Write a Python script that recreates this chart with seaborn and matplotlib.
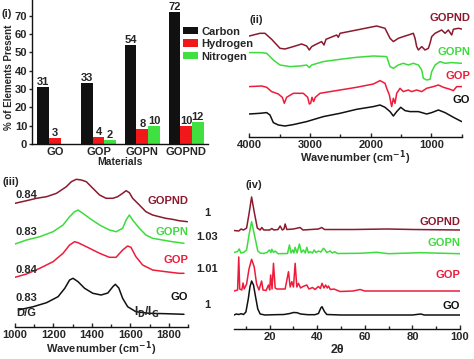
import matplotlib
matplotlib.use("Agg")
import matplotlib.pyplot as plt
import matplotlib.transforms as mtransforms
from matplotlib.ticker import MultipleLocator
import pandas as pd
import seaborn as sns

sns.set_style("ticks")
plt.rcParams["font.family"] = ["Liberation Sans", "DejaVu Sans"]
plt.rcParams["font.weight"] = "bold"
plt.rcParams["axes.labelweight"] = "bold"
plt.rcParams["mathtext.default"] = "bf"
plt.rcParams["font.size"] = 8

BLACK = "#111111"
RED = "#ee1c3a"
GREEN = "#3ddc3d"
MAROON = "#8b1a2e"
BAR_RED = "#f01818"
BAR_GREEN = "#3fe03f"

# ---- (i) elemental analysis ------------------------------------------------
materials = ["GO", "GOP", "GOPN", "GOPND"]
carbon = [31, 33, 54, 72]
hydrogen = [3, 4, 8, 10]
nitrogen = [0, 2, 10, 12]

# ---- (ii) FTIR (transmittance, a.u., stacked) ------------------------------
ftir_gopnd_wn = [4000, 3824, 3742, 3632, 3494, 3412, 3275, 3137, 3055, 3011,
                 2972, 2890, 2808, 2769, 2736, 2560, 2533, 2505, 2231, 1901,
                 1764, 1681, 1626, 1544, 1462, 1379, 1297, 1269, 1242, 1214,
                 1159, 1104, 1049, 1022, 994, 939, 884, 829, 775, 720,
                 665, 637, 555, 500]
ftir_gopnd = [101.3, 104, 104, 98, 89, 88.3, 90.7, 93.3, 91.3, 87.3,
              90.7, 93.3, 95.7, 92.3, 98, 102.3, 100, 104, 107.3, 111.3,
              109, 99, 95.7, 99, 100.7, 102.3, 104, 99, 90.7, 87.3,
              90.7, 87.3, 89, 94, 100.7, 104, 105.7, 107.3, 104, 107.3,
              102.3, 108, 109, 108.3]
ftir_gopn_wn = [4000, 3824, 3714, 3604, 3494, 3330, 3165, 3055, 3011, 2972,
                2780, 2505, 2231, 1956, 1736, 1681, 1626, 1544, 1462, 1379,
                1297, 1214, 1159, 1132, 1077, 1022, 994, 939, 857, 775,
                665, 500]
ftir_gopn = [84.7, 84.7, 84, 77.3, 72.3, 70.7, 71.3, 72.3, 69.7, 72.3,
             75.7, 78, 80, 81.3, 80.7, 70.7, 69, 72.3, 74, 72.3,
             74, 72.3, 67.3, 59, 57.3, 58, 65.7, 72.3, 75.7, 74,
             74.7, 74]
ftir_gop_wn = [4000, 3797, 3714, 3632, 3522, 3456, 3423, 3385, 3275, 3110,
               3038, 3011, 2989, 2967, 2940, 2912, 2835, 2505, 2231, 1956,
               1846, 1764, 1736, 1692, 1654, 1626, 1599, 1571, 1516, 1462,
               1379, 1324, 1242, 1159, 1077, 967, 884, 802, 692, 637,
               582, 500]
ftir_gop = [50.7, 51.3, 50, 45.7, 43.3, 40, 34, 40, 44, 44,
            40, 33.3, 34, 40, 35.7, 40, 44, 47.3, 50, 53.3,
            56.7, 54, 49, 42.3, 30.7, 39, 34, 44, 49, 45.7,
            47.3, 45.7, 47.3, 45.7, 49, 50.7, 52.3, 50, 48, 46.7,
            50.7, 50.7]
ftir_go_wn = [4000, 3824, 3714, 3659, 3604, 3522, 3412, 3275, 3055, 2780,
              2505, 2231, 1956, 1846, 1764, 1681, 1626, 1571, 1505, 1434,
              1352, 1214, 1077, 994, 884, 775, 637, 500]
ftir_go = [23.3, 24, 24.7, 22.3, 14.7, 12.3, 11.3, 12.7, 15.7, 20.7,
           24, 28, 30.7, 32.3, 30, 25.7, 21.3, 25.7, 30, 26.7,
           25.7, 25.7, 23.3, 24.7, 27.3, 24.7, 20, 15.7]

# ---- (iii) Raman (intensity, a.u., stacked) --------------------------------
raman_gopnd_wn = [1000, 1060, 1112, 1164, 1216, 1267, 1293, 1319, 1345, 1371,
                  1405, 1440, 1474, 1509, 1534, 1560, 1578, 1595, 1612, 1647,
                  1681, 1716, 1750, 1784, 1819, 1853, 1897]
raman_gopnd = [123.7, 126.3, 128.7, 130.3, 133.7, 140.3, 145.3, 147.7, 147, 145.3,
               138.7, 132, 128.7, 128.7, 130.3, 133.7, 136.3, 134.3, 128.7, 122,
               115.3, 112, 110.3, 108.7, 107.7, 106.3, 105.3]
raman_gopn_wn = [1000, 1060, 1129, 1198, 1250, 1284, 1310, 1328, 1353, 1388,
                 1440, 1491, 1526, 1560, 1578, 1595, 1612, 1647, 1681, 1716,
                 1767, 1819, 1879]
raman_gopn = [83, 87, 90.3, 95.3, 102, 110.3, 115.3, 117, 113.7, 108.7,
              102, 97, 95.3, 98.7, 107, 112, 107, 98.7, 92, 88.7,
              87, 85.3, 83.7]
raman_gop_wn = [1000, 1060, 1129, 1198, 1250, 1284, 1310, 1328, 1353, 1388,
                1440, 1491, 1526, 1560, 1586, 1603, 1629, 1664, 1716, 1784,
                1853, 1879]
raman_gop = [49.7, 53, 58.7, 65.3, 73.7, 82, 85.3, 84.3, 82, 78.7,
             73.7, 69.7, 69.7, 77, 81, 79.7, 70.3, 62, 57, 55.3,
             53.7, 53.7]
raman_go_wn = [1017, 1095, 1164, 1224, 1259, 1284, 1302, 1328, 1362, 1405,
               1448, 1483, 1509, 1522, 1540, 1560, 1586, 1629, 1698, 1784,
               1879]
raman_go = [17, 20.3, 24.3, 30.3, 38.7, 47, 48.7, 45.3, 38.7, 33.7,
            32, 34, 40.3, 42.7, 39, 28.7, 20.3, 15.3, 13.7, 13.3,
            12.7]
ratio_dg = ["0.83", "0.84", "0.83", "0.84"]       # GO, GOP, GOPN, GOPND
ratio_idig = ["1", "1.01", "1.03", "1"]

# ---- (iv) XRD (intensity, a.u., stacked) -----------------------------------
xrd_gopnd_2t = [5, 7, 8, 9, 10.3, 11.3, 12.4, 13.5, 14.8, 16, 16.7, 17.5, 20,
                20.9, 21.8, 23.5, 24.4, 25.3, 26, 26.5, 27.2, 30, 32.8, 34,
                40.5, 41.9, 43, 49.6, 55, 69.3, 80.5, 100]
xrd_gopnd = [98.5, 98, 100, 99, 101, 115, 132, 117, 101, 99, 101.5, 99, 99,
             100.5, 99, 99.5, 103, 99, 100, 105, 99.5, 100, 101.5, 99,
             100, 101.5, 99.5, 99.5, 99.5, 100, 99.5, 99]
xrd_gopn_2t = [5, 6.5, 7.2, 7.9, 9, 10.3, 11.3, 12.4, 13.6, 15, 16, 17.5, 18.8,
               19.9, 20.5, 20.9, 21.6, 22.3, 23.5, 27.5, 28.3, 29, 29.7, 30.2,
               30.7, 31.5, 32.5, 33.3, 34.2, 35, 35.6, 36.3, 37, 38, 38.7,
               39.5, 40.5, 41.5, 42.6, 43.3, 44, 45.4, 46.3, 47.3, 48.5, 58,
               65, 70, 83.3, 100]
xrd_gopn = [76.5, 77.5, 80, 76, 76.5, 79, 94, 107.3, 94, 78, 76, 75.5, 76.5,
            79, 76.5, 79.7, 76.5, 78, 75.3, 75.5, 84, 76, 79, 76,
            81.7, 76, 85, 76.5, 79, 76, 81.7, 76, 77.3, 76, 79,
            76.5, 78, 77, 80.7, 79, 76.5, 78, 76, 77.3, 75.5, 75.7,
            76.7, 75.3, 76.3, 75.3]
xrd_gop_2t = [5, 6.5, 7.0, 7.4, 8.3, 8.8, 9.3, 10.3, 11.3, 12.4, 13.5, 14.5,
              15.5, 16.6, 17.2, 18.5, 19.5, 20, 20.4, 21, 21.6, 22.3, 23, 24.5,
              26.5, 27.9, 28.6, 29.3, 30, 30.7, 31.4, 32.1, 33, 34, 35.6, 36.5,
              38, 39, 40.5, 41.3, 42, 42.8, 43.5, 44.2, 44.7, 45.5, 47, 49.6,
              55, 58, 60, 70, 83.5, 100]
xrd_gop = [38, 39, 72, 40, 39, 46, 40, 45, 60, 69.7, 62, 45,
           39, 48, 39, 38.5, 44, 39, 54, 40, 65.7, 41, 40, 40,
           40, 57.3, 42, 47.3, 42, 65.7, 42, 45.7, 41, 42.5, 44, 40,
           41.5, 39.5, 42.5, 40.5, 45.7, 41, 44, 41, 43, 39.5, 40, 37.5,
           38, 39.5, 38, 38, 38, 38]
xrd_go_2t = [5, 6, 7, 8, 9, 10, 11, 11.7, 12.4, 13.2, 14, 15, 16, 18, 22, 26,
             28.5, 30, 31.5, 33, 36, 39, 40.5, 41.5, 42, 43, 44, 50, 60, 70,
             80, 83.5, 85, 100]
xrd_go = [14, 15, 14.5, 15.3, 14.5, 17, 30, 42, 48, 44, 33, 20, 15, 14, 14.3,
          14.5, 15.5, 16.5, 16.3, 15, 14.3, 14.3, 15.5, 21, 22.3, 17.5, 14.5,
          14, 14, 14, 14, 15, 14, 14]

names = ["GO", "GOP", "GOPN", "GOPND"]
colors = [BLACK, RED, GREEN, MAROON]

fig = plt.figure(figsize=(4.74, 3.59), dpi=100)

# ============================ panel (i) =====================================
ax1 = fig.add_axes([32 / 474, 1 - 144 / 359, 176 / 474, 144 / 359])
df = pd.DataFrame({
    "Materials": materials * 3,
    "element": ["Carbon"] * 4 + ["Hydrogen"] * 4 + ["Nitrogen"] * 4,
    "pct": carbon + hydrogen + nitrogen,
})
sns.barplot(data=df, x="Materials", y="pct", hue="element",
            palette=[BLACK, BAR_RED, BAR_GREEN], saturation=1, linewidth=0,
            width=0.8, ax=ax1)
for cont in ax1.containers:
    labs = [f"{int(v)}" if v > 0 else "" for v in cont.datavalues]
    ax1.bar_label(cont, labels=labs, padding=0, fontsize=8, fontweight="bold")
ax1.set_xlim(-0.52, 3.5)
ax1.set_ylim(0, 78.5)
ax1.yaxis.set_major_locator(MultipleLocator(10))
ax1.set_ylabel("% of Elements Present", fontsize=7)
ax1.yaxis.set_label_coords(-0.105, 0.46)
ax1.set_xlabel("Materials", fontsize=7.5, labelpad=0)
ax1.tick_params(axis="y", labelsize=8, length=2.5, width=1, pad=1)
ax1.tick_params(axis="x", labelsize=8, length=0, pad=2)
sns.despine(ax=ax1)
ax1.legend(loc="upper left", bbox_to_anchor=(0.86, 0.815), frameon=False,
           fontsize=8, handlelength=1.3, handleheight=0.65, handletextpad=0.3,
           labelspacing=0.22, borderpad=0, borderaxespad=0)
fig.text(2 / 474, 1 - 14 / 359, "(i)", fontsize=8, va="center", ha="left")

# ============================ panel (ii) ====================================
ax2 = fig.add_axes([249.3 / 474, 1 - 137.3 / 359, 212.4 / 474, 137.3 / 359])
ftir = [(ftir_go_wn, ftir_go), (ftir_gop_wn, ftir_gop),
        (ftir_gopn_wn, ftir_gopn), (ftir_gopnd_wn, ftir_gopnd)]
for (wn, vals), col in zip(ftir, colors):
    sns.lineplot(x=wn, y=vals, ax=ax2, color=col, lw=1.1, sort=False,
                 estimator=None)
ax2.set_xlim(4000, 500)
ax2.set_ylim(0, 137.3)
ax2.xaxis.set_major_locator(MultipleLocator(1000))
ax2.xaxis.set_minor_locator(MultipleLocator(500))
ax2.set_xlabel("Wavenumber (cm$^{-1}$)", fontsize=8, labelpad=-1)
tr2 = mtransforms.blended_transform_factory(ax2.transAxes, ax2.transData)
for name, col, yy in zip(names, colors, [37.3, 61.3, 85.3, 119.3]):
    ax2.text(1.04, yy, name, color=col, fontsize=8, ha="right", va="center",
             transform=tr2, clip_on=False)
ax2.text(0.0, 117, "(ii)", fontsize=8, ha="left", va="center", transform=tr2)

# ============================ panel (iii) ===================================
ax3 = fig.add_axes([15 / 474, 1 - 327 / 359, 173 / 474, 152 / 359])
raman = [(raman_go_wn, raman_go), (raman_gop_wn, raman_gop),
         (raman_gopn_wn, raman_gopn), (raman_gopnd_wn, raman_gopnd)]
for (wn, vals), col in zip(raman, colors):
    sns.lineplot(x=wn, y=vals, ax=ax3, color=col, lw=1.1, sort=False,
                 estimator=None)
ax3.set_xlim(1000, 1900)
ax3.set_ylim(0, 152)
ax3.xaxis.set_major_locator(MultipleLocator(200))
ax3.xaxis.set_minor_locator(MultipleLocator(100))
ax3.set_xlabel("Wavenumber (cm$^{-1}$)", fontsize=8, labelpad=0)
tr3 = mtransforms.blended_transform_factory(ax3.transAxes, ax3.transData)
for name, col, yy in zip(names, colors, [30, 67, 95, 126]):
    ax3.text(1.0, yy, name, color=col, fontsize=8, ha="right", va="center",
             transform=tr3, clip_on=False)
for lab, yy in zip(ratio_dg, [29, 57, 95, 132]):
    ax3.text(0.0, yy, lab, fontsize=8, ha="left", va="center", transform=tr3)
for lab, yy in zip(ratio_idig, [22, 58, 90, 114]):
    ax3.text(1.11, yy, lab, fontsize=8, ha="center", va="center",
             transform=tr3, clip_on=False)
ax3.text(0.01, 14, "D/G", fontsize=8, ha="left", va="center", transform=tr3)
ax3.text(1687, 15, "I$_D$/I$_G$", fontsize=8.5, ha="center", va="center")
ax3.text(-0.075, 145, "(iii)", fontsize=8, ha="left", va="center",
         transform=tr3, clip_on=False)

# ============================ panel (iv) ====================================
ax4 = fig.add_axes([234 / 474, 1 - 329 / 359, 226 / 474, 151 / 359])
xrd = [(xrd_go_2t, xrd_go), (xrd_gop_2t, xrd_gop),
       (xrd_gopn_2t, xrd_gopn), (xrd_gopnd_2t, xrd_gopnd)]
for (tt, vals), col in zip(xrd, colors):
    sns.lineplot(x=tt, y=vals, ax=ax4, color=col, lw=1.1, sort=False,
                 estimator=None)
ax4.set_xlim(5, 100)
ax4.set_ylim(0, 151)
ax4.xaxis.set_major_locator(MultipleLocator(20))
ax4.xaxis.set_minor_locator(MultipleLocator(10))
ax4.set_xlabel("2θ", fontsize=9)
ax4.xaxis.set_label_coords(0.456, -0.1)
tr4 = mtransforms.blended_transform_factory(ax4.transAxes, ax4.transData)
for name, col, yy in zip(names, colors, [23, 54, 86, 107]):
    ax4.text(1.0, yy, name, color=col, fontsize=8, ha="right", va="center",
             transform=tr4, clip_on=False)
ax4.text(0.049, 144, "(iv)", fontsize=8, ha="left", va="center",
         transform=tr4, clip_on=False)

for ax in (ax2, ax3, ax4):
    ax.set_ylabel("")
    ax.set_yticks([])
    for s in ("left", "right", "top"):
        ax.spines[s].set_visible(False)
    ax.tick_params(axis="x", which="major", direction="in", length=3,
                   width=1, labelsize=8, pad=2)
    ax.tick_params(axis="x", which="minor", direction="in", length=2,
                   width=1)
for ax in (ax1, ax2, ax3, ax4):
    ax.set_facecolor("none")
    for s in ax.spines.values():
        s.set_linewidth(1)
        s.set_color(BLACK)

fig.savefig("out.png", dpi=100)
